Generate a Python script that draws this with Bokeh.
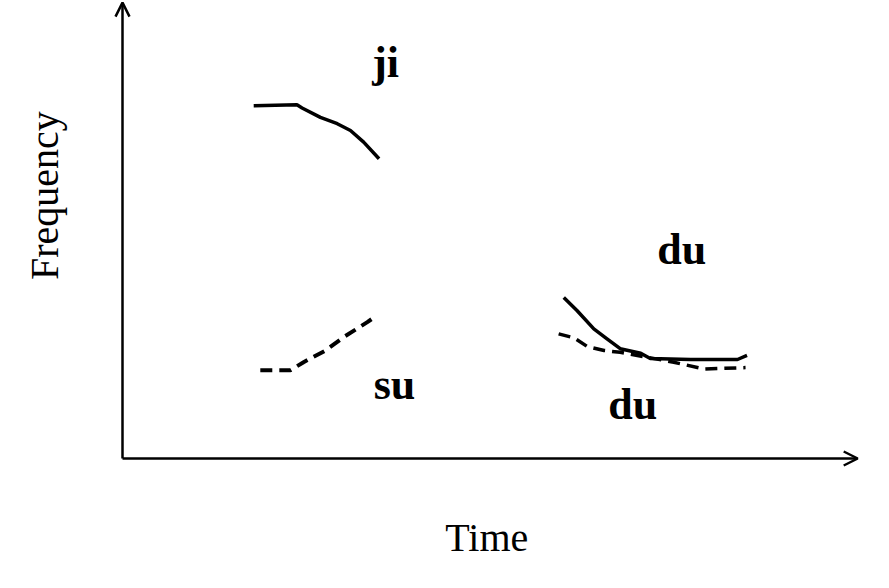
from bokeh.plotting import figure
from bokeh.models import Range1d, Arrow, OpenHead
from bokeh.core.properties import value
from bokeh.embed import file_html
from bokeh.resources import INLINE

# Curves (time, frequency) in arbitrary units
ji_t = [17.9, 23.8, 24.5, 27.0, 29.3, 31.1, 32.9, 35.0]
ji_f = [78.4, 78.6, 77.9, 75.8, 74.4, 72.9, 70.3, 66.6]

su_t = [18.8, 22.9, 24.7, 27.7, 30.2, 33.4, 34.1]
su_f = [19.6, 19.6, 21.4, 24.0, 27.0, 30.3, 31.1]

du_solid_t = [60.2, 62.0, 64.3, 66.1, 67.9, 70.7, 72.0, 77.5, 83.9, 85.2]
du_solid_f = [35.8, 32.9, 28.8, 26.6, 24.4, 23.4, 22.2, 22.0, 22.0, 22.9]

du_dash_t = [59.5, 61.6, 63.4, 65.7, 67.9, 75.2, 79.3, 85.0]
du_dash_f = [27.7, 26.8, 24.9, 24.0, 23.6, 21.4, 19.9, 20.2]

label_text = ["ji", "du", "su", "du"]
label_t = [35.9, 76.3, 37.1, 69.6]
label_f = [88.0, 46.4, 16.4, 11.9]

x_title = "Time"
y_title = "Frequency"

W, H = 873, 572
sx, sy = 7.33, 4.5
ox, oy = 122, 458

p = figure(width=W, height=H, output_backend="svg", toolbar_location=None,
           x_range=Range1d(-ox / sx, (W - ox) / sx),
           y_range=Range1d(-(H - oy) / sy, oy / sy),
           min_border=0)
p.axis.visible = False
p.grid.visible = False
p.outline_line_color = None
p.background_fill_color = "white"
p.border_fill_color = "white"

# axes with arrows
p.add_layout(Arrow(x_start=0, y_start=0, x_end=0, y_end=101.3,
                   line_width=2.5, line_color="black",
                   end=OpenHead(size=14, line_width=2.5, line_color="black")))
p.add_layout(Arrow(x_start=0, y_start=0, x_end=100.3, y_end=0,
                   line_width=2.5, line_color="black",
                   end=OpenHead(size=14, line_width=2.5, line_color="black")))

p.line(ji_t, ji_f, line_width=3.5, line_color="black")
p.line(su_t, su_f, line_width=4, line_color="black", line_dash="12 7")
p.line(du_solid_t, du_solid_f, line_width=3.5, line_color="black")
p.line(du_dash_t, du_dash_f, line_width=3.5, line_color="black", line_dash="12 7")

p.text(x=label_t, y=label_f, text=label_text, text_font=value("Liberation Serif"),
       text_font_size="44px", text_align="center", text_baseline="alphabetic",
       text_color="black", text_font_style="bold")

p.text(x=[49.7], y=[-17.6], text=[x_title], text_font=value("Liberation Serif"),
       text_font_size="40px", text_align="center", text_baseline="alphabetic",
       text_color="black")
p.text(x=[-10.7], y=[58.4], text=[y_title], text_font=value("Liberation Serif"),
       text_font_size="40px", text_align="center", text_baseline="alphabetic",
       text_color="black", angle=1.5708)

open("out.html", "w").write(file_html(p, INLINE))
